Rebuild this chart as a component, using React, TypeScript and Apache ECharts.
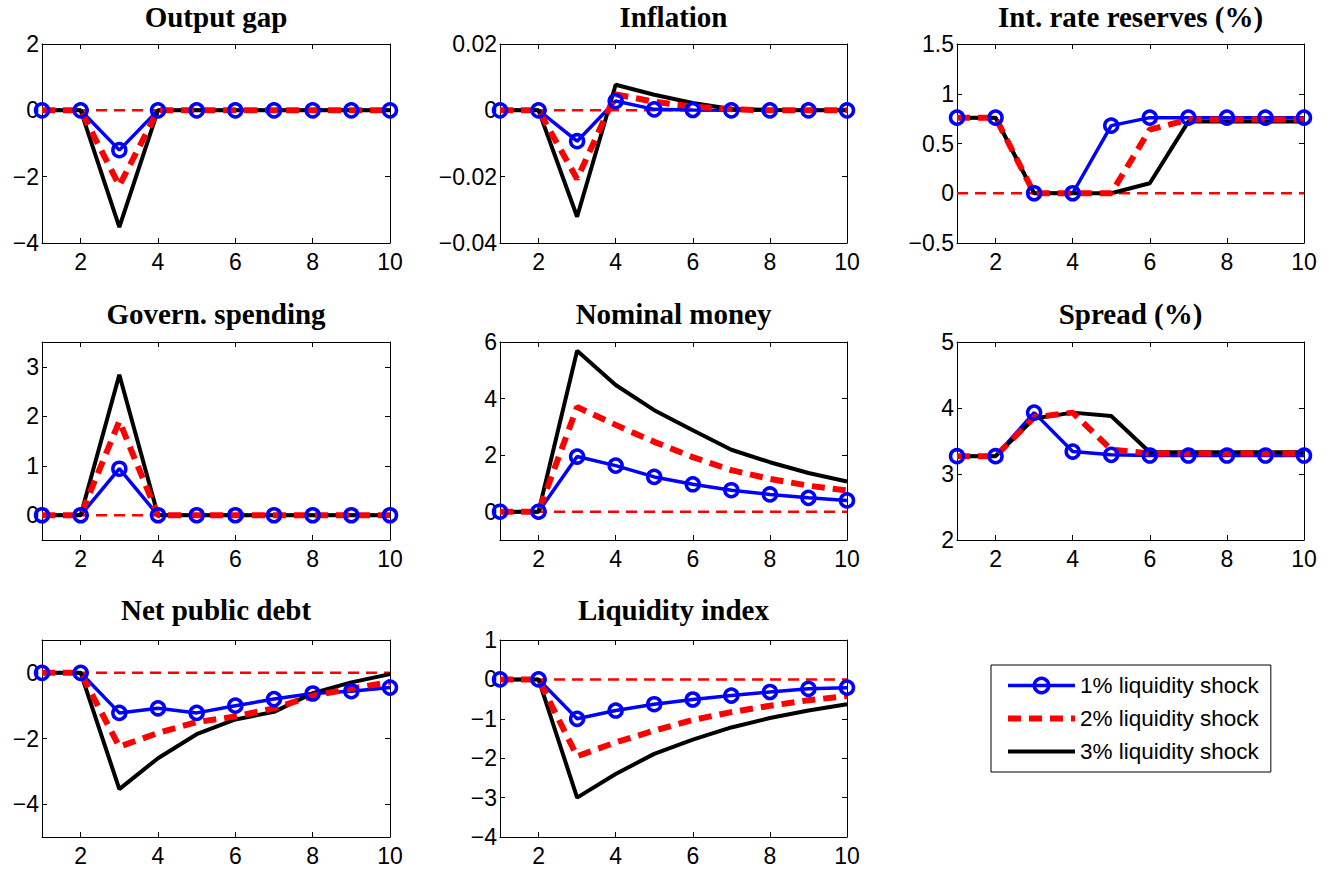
import React, { useEffect, useRef } from "react";
import * as echarts from "echarts";

// Horizon (quarters after the shock)
const periods = [1, 2, 3, 4, 5, 6, 7, 8, 9, 10];
const xTicks = [2, 4, 6, 8, 10];
const zeroLine = [0, 0, 0, 0, 0, 0, 0, 0, 0, 0];

const seriesNames = ["1% liquidity shock", "2% liquidity shock", "3% liquidity shock"];

// Impulse responses, one array per shock size
const outputGap1 = [0, 0, -1.2, 0, 0, 0, 0, 0, 0, 0];
const outputGap2 = [0, 0, -2.27, 0, 0, 0, 0, 0, 0, 0];
const outputGap3 = [0, 0, -3.52, 0, 0, 0, 0, 0, 0, 0];

const inflation1 = [0, 0, -0.0093, 0.0028, 0.0003, 0.0001, 0, 0, 0, 0];
const inflation2 = [0, 0, -0.0207, 0.0048, 0.0026, 0.0011, 0.0003, 0, 0, 0];
const inflation3 = [0, 0, -0.0321, 0.0077, 0.0047, 0.0022, 0.0004, 0.0001, 0, 0];

const intRate1 = [0.76, 0.76, 0, 0, 0.68, 0.76, 0.76, 0.76, 0.76, 0.76];
const intRate2 = [0.76, 0.76, 0, 0, 0, 0.64, 0.74, 0.74, 0.74, 0.74];
const intRate3 = [0.76, 0.76, 0, 0, 0, 0.1, 0.72, 0.72, 0.72, 0.72];

const spending1 = [0, 0, 0.94, 0, 0, 0, 0, 0, 0, 0];
const spending2 = [0, 0, 1.9, 0, 0, 0, 0, 0, 0, 0];
const spending3 = [0, 0, 2.84, 0, 0, 0, 0, 0, 0, 0];

const money1 = [0, 0, 1.95, 1.63, 1.23, 0.97, 0.76, 0.61, 0.49, 0.4];
const money2 = [0, 0, 3.7, 3.07, 2.47, 1.93, 1.47, 1.16, 0.92, 0.75];
const money3 = [0, 0, 5.69, 4.48, 3.59, 2.88, 2.19, 1.75, 1.37, 1.07];

const spread1 = [3.27, 3.27, 3.93, 3.34, 3.29, 3.28, 3.28, 3.28, 3.28, 3.28];
const spread2 = [3.27, 3.27, 3.86, 3.93, 3.37, 3.31, 3.31, 3.31, 3.31, 3.31];
const spread3 = [3.27, 3.27, 3.84, 3.93, 3.88, 3.33, 3.33, 3.33, 3.33, 3.33];

const debt1 = [0, 0, -1.22, -1.08, -1.22, -1.0, -0.8, -0.63, -0.56, -0.45];
const debt2 = [0, 0, -2.25, -1.83, -1.5, -1.33, -1.08, -0.7, -0.48, -0.28];
const debt3 = [0, 0, -3.54, -2.6, -1.87, -1.42, -1.19, -0.62, -0.29, -0.04];

const liquidity1 = [0, 0, -1.0, -0.79, -0.63, -0.51, -0.41, -0.32, -0.24, -0.21];
const liquidity2 = [0, 0, -1.95, -1.6, -1.3, -1.03, -0.83, -0.67, -0.53, -0.42];
const liquidity3 = [0, 0, -3.0, -2.4, -1.89, -1.53, -1.22, -0.98, -0.79, -0.63];

// Panel titles, value ranges and tick values
const titles = [
  "Output gap",
  "Inflation",
  "Int. rate reserves (%)",
  "Govern. spending",
  "Nominal money",
  "Spread (%)",
  "Net public debt",
  "Liquidity index",
];
const yRanges = [
  [-4, 2],
  [-0.04, 0.02],
  [-0.5, 1.5],
  [-0.5, 3.5],
  [-1, 6],
  [2, 5],
  [-5, 1],
  [-4, 1],
];
const yTicks = [
  [-4, -2, 0, 2],
  [-0.04, -0.02, 0, 0.02],
  [-0.5, 0, 0.5, 1, 1.5],
  [0, 1, 2, 3],
  [0, 2, 4, 6],
  [2, 3, 4, 5],
  [-4, -2, 0],
  [-4, -3, -2, -1, 0, 1],
];
const responses = [
  [outputGap1, outputGap2, outputGap3],
  [inflation1, inflation2, inflation3],
  [intRate1, intRate2, intRate3],
  [spending1, spending2, spending3],
  [money1, money2, money3],
  [spread1, spread2, spread3],
  [debt1, debt2, debt3],
  [liquidity1, liquidity2, liquidity3],
];

// Layout of the 3x3 panel grid (pixels)
const colLeft = [42, 500, 957];
const colWidth = [348, 347, 347];
const rowTop = [44, 342, 640];
const rowHeight = [199, 198, 197];
const titleMid = [17, 314, 610];

const SANS = "'Liberation Sans', Arial, Helvetica, sans-serif";
const SERIF = "'Liberation Serif', 'Times New Roman', serif";
const BLUE = "#0000ff";
const RED = "#ff0000";
const BLACK = "#000000";

const fmt = (v: number) => String(+v.toFixed(4)).replace("-", "\u2212");

function buildOption() {
  const grid: any[] = [];
  const xAxis: any[] = [];
  const yAxis: any[] = [];
  const series: any[] = [];
  const graphic: any[] = [];

  titles.forEach((title, i) => {
    const r = Math.floor(i / 3);
    const c = i % 3;
    grid.push({ left: colLeft[c], top: rowTop[r], width: colWidth[c], height: rowHeight[r], show: false });

    const tickStyle = { color: BLACK, width: 1 };
    ["bottom", "top"].forEach((pos) => {
      xAxis.push({
        gridIndex: i,
        type: "value",
        position: pos,
        min: 1,
        max: 10,
        axisLine: { show: true, onZero: false, lineStyle: tickStyle },
        axisTick: { show: true, inside: true, length: 5, customValues: xTicks, lineStyle: tickStyle },
        axisLabel: {
          show: pos === "bottom",
          customValues: xTicks,
          fontSize: 23,
          fontFamily: SANS,
          color: BLACK,
          margin: 7,
        },
        splitLine: { show: false },
      });
    });
    ["left", "right"].forEach((pos) => {
      yAxis.push({
        gridIndex: i,
        type: "value",
        position: pos,
        min: yRanges[i][0],
        max: yRanges[i][1],
        axisLine: { show: true, onZero: false, lineStyle: tickStyle },
        axisTick: { show: true, inside: true, length: 5, customValues: yTicks[i], lineStyle: tickStyle },
        axisLabel: {
          show: pos === "left",
          customValues: yTicks[i],
          formatter: fmt,
          fontSize: 23,
          fontFamily: SANS,
          color: BLACK,
          margin: 3,
        },
        splitLine: { show: false },
      });
    });

    const axisRef = { xAxisIndex: i * 2, yAxisIndex: i * 2 };
    const pairs = (vals: number[]) => periods.map((p, k) => [p, vals[k]]);
    const [s1, s2, s3] = responses[i];

    if (yRanges[i][0] <= 0 && yRanges[i][1] >= 0) {
      series.push({
        ...axisRef,
        type: "line",
        name: "zero",
        data: pairs(zeroLine),
        symbol: "none",
        lineStyle: { color: RED, width: 2.5, type: [11, 7] },
        itemStyle: { color: RED },
        silent: true,
      });
    }
    series.push({
      ...axisRef,
      type: "line",
      name: seriesNames[0],
      data: pairs(s1),
      symbol: "circle",
      symbolSize: 13,
      lineStyle: { color: BLUE, width: 3.5 },
      itemStyle: { color: "transparent", borderColor: BLUE, borderWidth: 3.5 },
    });
    series.push({
      ...axisRef,
      type: "line",
      name: seriesNames[2],
      data: pairs(s3),
      symbol: "none",
      lineStyle: { color: BLACK, width: 4 },
      itemStyle: { color: BLACK },
    });
    series.push({
      ...axisRef,
      type: "line",
      name: seriesNames[1],
      data: pairs(s2),
      symbol: "none",
      lineStyle: { color: RED, width: 6, type: [13, 8] },
      itemStyle: { color: RED },
    });

    graphic.push({
      type: "text",
      x: colLeft[c] + colWidth[c] / 2,
      y: titleMid[r],
      style: {
        text: title,
        textAlign: "center",
        textVerticalAlign: "middle",
        fill: BLACK,
        fontSize: 29,
        fontWeight: "bold",
        fontFamily: SERIF,
      },
    });
  });

  return {
    animation: false,
    backgroundColor: "#ffffff",
    grid,
    xAxis,
    yAxis,
    series,
    graphic,
    legend: {
      left: 991,
      top: 665,
      orient: "vertical",
      itemWidth: 67,
      itemHeight: 18,
      itemGap: 10,
      padding: [9, 12, 9, 14],
      borderColor: BLACK,
      borderWidth: 1,
      backgroundColor: "#ffffff",
      selectedMode: false,
      textStyle: { fontSize: 22.5, fontFamily: SANS, color: BLACK },
      data: [
        { name: seriesNames[0], itemStyle: { borderWidth: 3.5 }, lineStyle: { width: 3.5 } },
        { name: seriesNames[1], itemStyle: { opacity: 0 }, lineStyle: { width: 6 } },
        { name: seriesNames[2], itemStyle: { opacity: 0 }, lineStyle: { width: 4 } },
      ],
    },
  };
}

export default function App() {
  const ref = useRef<HTMLDivElement>(null);
  useEffect(() => {
    if (!ref.current) return;
    const chart = echarts.init(ref.current, undefined, { renderer: "svg" });
    chart.setOption(buildOption() as any);
    return () => chart.dispose();
  }, []);
  return (
    <div
      ref={ref}
      style={{ position: "fixed", left: 0, top: 0, width: 1340, height: 870, background: "#fff" }}
    />
  );
}
